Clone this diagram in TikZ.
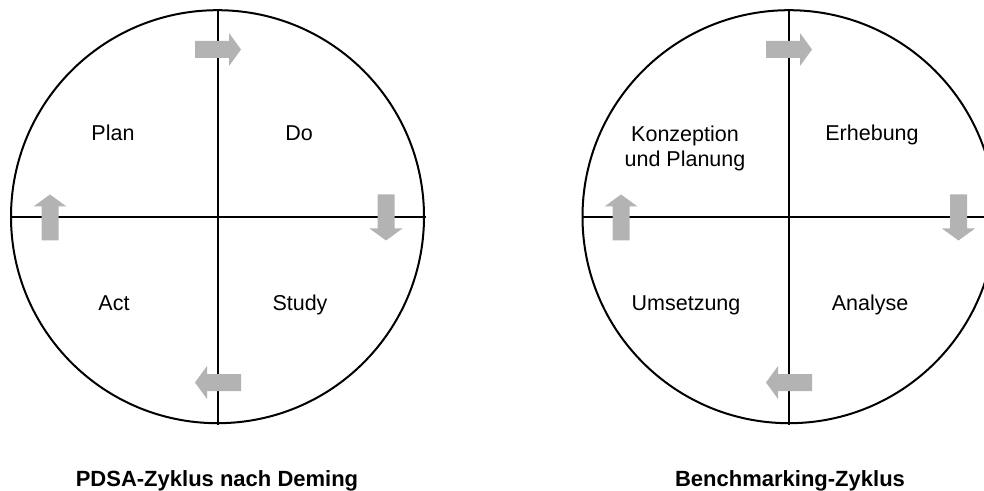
\documentclass[tikz,border=0pt]{standalone}
\usepackage{fontspec}
\setmainfont{Liberation Sans}
\usetikzlibrary{calc}
\begin{document}
\begin{tikzpicture}[x=0.5pt,y=-0.5pt,
  cyclering/.style={circle,draw=black,line width=1pt,minimum size=206.5pt,inner sep=0pt,outer sep=0pt},
  divider/.style={draw=black,line width=1pt},
  phase/.style={font=\fontsize{10.75}{12.9}\selectfont,anchor=base,align=center,inner sep=0pt},
  caption/.style={font=\fontsize{11}{13.2}\selectfont\bfseries,anchor=base,inner sep=0pt},
  flowarrow/.pic={
    \fill[arrowgray] (-23,-8.5) -- (11,-8.5) -- (11,-16.5) -- (23,0)
      -- (11,16.5) -- (11,8.5) -- (-23,8.5) -- cycle;
  }]
\definecolor{arrowgray}{RGB}{179,179,179}
\useasboundingbox (0,0) rectangle (984,491);

% PDSA cycle
\node[cyclering] (pdsa) at (217.5,216.7) {};
\draw[divider] ($(pdsa.center)+(0,-207)$) -- ($(pdsa.center)+(0,208)$);
\draw[divider] ($(pdsa.center)+(-207,0)$) -- ($(pdsa.center)+(208,0)$);
\pic at (218,49.5) {flowarrow};
\pic[rotate=-90] at (386,217.5) {flowarrow};
\pic[rotate=180] at (218,382.5) {flowarrow};
\pic[rotate=90] at (50,217.5) {flowarrow};
\node[phase] (plan) at (113,141) {Plan};
\node[phase] (do) at (299,141) {Do};
\node[phase] (act) at (114,311) {Act};
\node[phase] (study) at (300,311) {Study};
\node[caption] (pdsacap) at (217,486) {PDSA-Zyklus nach Deming};

% Benchmarking cycle
\node[cyclering] (bench) at (789,216.7) {};
\draw[divider] ($(bench.center)+(0,-207)$) -- ($(bench.center)+(0,208)$);
\draw[divider] ($(bench.center)+(-207,0)$) -- ($(bench.center)+(208,0)$);
\pic at (789,49.5) {flowarrow};
\pic[rotate=-90] at (958.5,217.5) {flowarrow};
\pic[rotate=180] at (789,382.5) {flowarrow};
\pic[rotate=90] at (621,217.5) {flowarrow};
\node[phase] (konz) at (685,167) {Konzeption\\und Planung};
\node[phase] (erh) at (872,141) {Erhebung};
\node[phase] (ums) at (686,311) {Umsetzung};
\node[phase] (ana) at (870,311) {Analyse};
\node[caption] (benchcap) at (790,486) {Benchmarking-Zyklus};
\end{tikzpicture}
\end{document}
